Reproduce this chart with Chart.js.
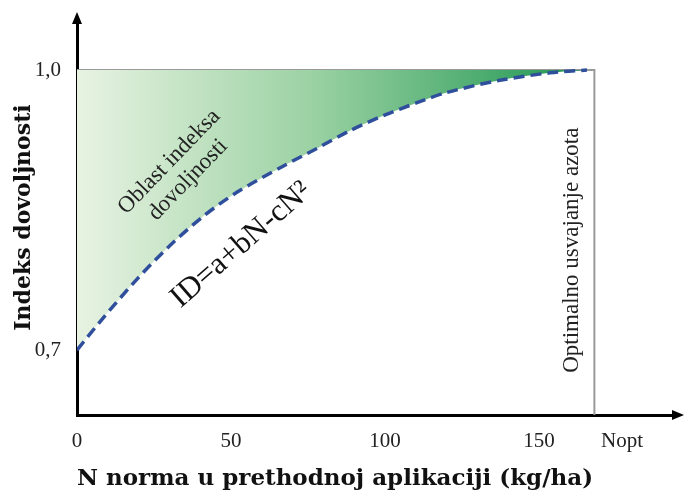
<!DOCTYPE html>
<html>
<head>
<meta charset="utf-8">
<script src="https://cdn.jsdelivr.net/npm/chart.js@4"></script>
<style>
  body { margin: 0; background: #fff; }
</style>
</head>
<body>
<canvas id="c" width="684" height="493"></canvas>
<script>
// values
const curveN  = [0, 8.4, 19.5, 30.2, 40.9, 51.9, 66.9, 77.9, 88.6, 99.4, 110.4, 120.1, 137.3, 153.6, 165.6];
const curveID = [0.700, 0.734, 0.776, 0.812, 0.843, 0.869, 0.897, 0.916, 0.935, 0.951, 0.965, 0.976, 0.989, 0.997, 1.0];
const xTicks = [0, 50, 100, 150, 177];
const xTickLabels = ['0', '50', '100', '150', 'Nopt'];
const yTicks = [0.7, 1.0];
const yTickLabels = ['0,7', '1,0'];
const nOpt = 168;
const idMax = 1.0;

const xMin = 0, xMax = 194.5;
const yMin = 0.6304, yMax = 1.0536;
const serif = "'Liberation Serif', 'DejaVu Serif', serif";
const wideSerif = "'DejaVu Serif', 'Liberation Serif', serif";

// border of the area: top line at 1,0 and vertical line at Nopt
const boxN = [0, nOpt, nOpt];
const boxID = [idMax, idMax, yMin];

const greenFill = (ctx) => {
  const chart = ctx.chart;
  const area = chart.chartArea;
  if (!area) return 'rgba(60,160,90,0.5)';
  const x1 = chart.scales.x.getPixelForValue(nOpt);
  const g = chart.ctx.createLinearGradient(area.left, 0, x1, 0);
  g.addColorStop(0, 'rgb(232,243,226)');
  g.addColorStop(0.45, 'rgb(156,210,164)');
  g.addColorStop(1, 'rgb(26,148,78)');
  return g;
};

const decorations = {
  id: 'decorations',
  afterDraw(chart) {
    const ctx = chart.ctx;
    const xs = chart.scales.x, ys = chart.scales.y;
    const left = chart.chartArea.left, top = chart.chartArea.top;
    const right = chart.chartArea.right, bottom = chart.chartArea.bottom;
    ctx.save();
    // arrow heads
    ctx.fillStyle = '#000';
    ctx.beginPath();
    ctx.moveTo(left, top - 8);
    ctx.lineTo(left - 5, top + 4);
    ctx.lineTo(left + 5, top + 4);
    ctx.closePath();
    ctx.fill();
    ctx.beginPath();
    ctx.moveTo(right + 8, bottom);
    ctx.lineTo(right - 4, bottom - 5);
    ctx.lineTo(right - 4, bottom + 5);
    ctx.closePath();
    ctx.fill();

    // area label
    ctx.fillStyle = '#222';
    ctx.textAlign = 'center';
    ctx.textBaseline = 'middle';
    ctx.save();
    ctx.translate(xs.getPixelForValue(33), ys.getPixelForValue(0.892));
    ctx.rotate(-46 * Math.PI / 180);
    ctx.font = '23px ' + serif;
    ctx.fillText('Oblast indeksa', 0, -13);
    ctx.fillText('dovoljnosti', 0, 13);
    ctx.restore();

    // equation
    ctx.save();
    ctx.translate(xs.getPixelForValue(53.3), ys.getPixelForValue(0.8125));
    ctx.rotate(-41 * Math.PI / 180);
    ctx.font = '31px ' + serif;
    ctx.fillStyle = '#111';
    ctx.fillText('ID=a+bN-cN²', 0, 0);
    ctx.restore();

    // Nopt line label
    ctx.save();
    ctx.translate(xs.getPixelForValue(160.7), ys.getPixelForValue(0.807));
    ctx.rotate(-Math.PI / 2);
    ctx.font = '23px ' + serif;
    ctx.fillStyle = '#222';
    ctx.fillText('Optimalno usvajanje azota', 0, 0);
    ctx.restore();

    ctx.restore();
  }
};

new Chart(document.getElementById('c'), {
  type: 'scatter',
  data: {
    datasets: [
      {
        label: 'ID',
        data: curveN.map((n, i) => ({ x: n, y: curveID[i] })),
        showLine: true,
        borderColor: '#2f4f9c',
        borderWidth: 3.5,
        borderDash: [11, 6],
        pointRadius: 0,
        tension: 0.3,
        fill: { value: idMax },
        backgroundColor: greenFill,
        order: 1
      },
      {
        label: 'granica',
        data: boxN.map((n, i) => ({ x: n, y: boxID[i] })),
        showLine: true,
        borderColor: '#9a9a9a',
        borderWidth: 2,
        pointRadius: 0,
        fill: false,
        order: 2
      }
    ]
  },
  plugins: [decorations],
  options: {
    responsive: false,
    animation: false,
    layout: { padding: { top: 20, right: 8, left: 0, bottom: 0 } },
    plugins: {
      legend: { display: false },
      tooltip: { enabled: false }
    },
    scales: {
      x: {
        type: 'linear',
        min: xMin,
        max: xMax,
        afterBuildTicks: (scale) => { scale.ticks = xTicks.map(v => ({ value: v })); },
        afterFit: (scale) => { scale.height = 78; scale.paddingLeft = 0; scale.paddingRight = 0; },
        grid: { display: false, drawTicks: false },
        border: { display: true, color: '#000', width: 3 },
        ticks: {
          callback: (v) => xTickLabels[xTicks.indexOf(v)],
          font: { family: serif, size: 21 },
          color: '#222',
          padding: 14,
          maxRotation: 0,
          autoSkip: false
        },
        title: {
          display: true,
          text: 'N norma u prethodnoj aplikaciji (kg/ha)',
          align: 'start',
          font: { family: wideSerif, size: 23, weight: 'bold' },
          color: '#111',
          padding: { top: 5, bottom: 0 }
        }
      },
      y: {
        type: 'linear',
        min: yMin,
        max: yMax,
        afterBuildTicks: (scale) => { scale.ticks = yTicks.map(v => ({ value: v })); },
        afterFit: (scale) => { scale.width = 77; scale.paddingTop = 0; scale.paddingBottom = 0; },
        grid: { display: false, drawTicks: false },
        border: { display: true, color: '#000', width: 3 },
        ticks: {
          callback: (v) => yTickLabels[yTicks.indexOf(v)],
          font: { family: serif, size: 21 },
          color: '#222',
          padding: 16,
          autoSkip: false
        },
        title: {
          display: true,
          text: 'Indeks dovoljnosti',
          font: { family: wideSerif, size: 22, weight: 'bold' },
          color: '#111',
          padding: { top: 11, bottom: 0 }
        }
      }
    }
  }
});
</script>
</body>
</html>
